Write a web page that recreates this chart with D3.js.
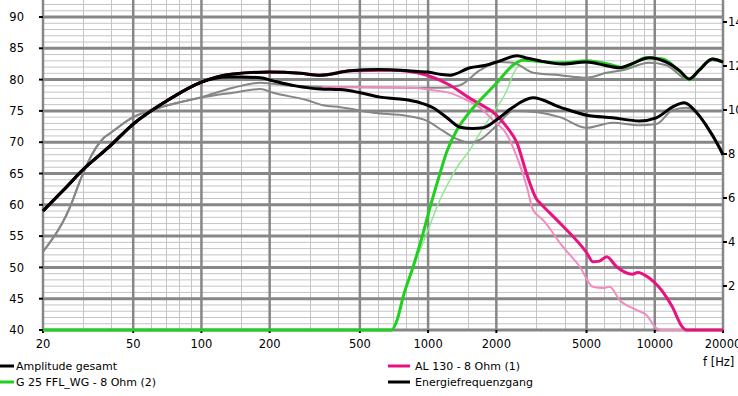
<!DOCTYPE html>
<html>
<head>
<meta charset="utf-8">
<script src="https://cdn.jsdelivr.net/npm/d3@7"></script>
<style>
body { margin: 0; background: #fff; }
svg { display: block; font-family: "DejaVu Sans", Verdana, sans-serif; }
</style>
</head>
<body>
<div id="chart"></div>
<script>
'use strict';

var width = 738;
var height = 396;

// Axis ticks
var xMajorTicks = [20, 50, 100, 200, 500, 1000, 2000, 5000, 10000, 20000];
var xMinorTicks = [30, 40, 60, 70, 80, 90, 150, 300, 400, 600, 700, 800, 900,
	1500, 3000, 4000, 6000, 7000, 8000, 9000, 15000];
var yMajorTicks = [40, 45, 50, 55, 60, 65, 70, 75, 80, 85, 90];
var yRightTicks = [2, 4, 6, 8, 10, 12, 14];

// Series, [frequency in Hz, level in dB]
var amplitudeGesamt = [
	[20, 59.0], [24.7, 62.4], [30, 65.6], [39, 69.2], [50, 72.9], [71, 76.7],
	[100, 79.6], [138, 80.9], [200, 81.2], [273, 81.0], [334, 80.7], [453, 81.4],
	[600, 81.6], [760, 81.5], [900, 81.3], [1000, 81.2], [1150, 80.8], [1250, 80.7],
	[1530, 81.9], [1800, 82.3], [2075, 83.0], [2470, 83.8], [2750, 83.4], [3100, 83.0],
	[3930, 82.5], [5000, 82.8], [6000, 82.3], [7000, 81.9], [8000, 82.6], [9450, 83.5],
	[11240, 82.8], [12900, 81.4], [14190, 80.1], [15700, 81.5], [17940, 83.3], [20000, 82.8]
];

var energieFrequenzgang = [
	[20, 59.0], [24.7, 62.4], [30, 65.6], [39, 69.2], [50, 72.9], [71, 76.7],
	[100, 79.6], [130, 80.4], [150, 80.4], [182, 80.3], [207, 79.8], [260, 79.0],
	[334, 78.5], [410, 78.4], [502, 77.9], [614, 77.2], [753, 76.9], [922, 76.3],
	[1052, 75.5], [1212, 73.9], [1383, 72.4], [1579, 72.2], [1748, 72.3], [2075, 74.0],
	[2367, 75.6], [2903, 77.1], [3814, 75.6], [5016, 74.3], [6516, 73.9], [8550, 73.4],
	[10160, 73.9], [11950, 75.6], [13490, 76.3], [15240, 74.8], [16870, 72.7],
	[19250, 69.2], [20000, 68.0]
];

var al130 = [
	[20, 59.0], [24.7, 62.4], [30, 65.6], [39, 69.2], [50, 72.9], [71, 76.7],
	[100, 79.6], [138, 80.9], [200, 81.2], [273, 81.0], [334, 80.7], [453, 81.4],
	[680, 81.5], [833, 81.3], [990, 80.7], [1250, 79.1], [1500, 77.2], [1750, 75.8],
	[1934, 74.8], [2228, 72.4], [2466, 69.9], [2730, 64.8], [3024, 60.8], [3116, 60.3],
	[3931, 56.6], [5016, 52.3], [5329, 50.9], [5700, 51.0], [6137, 51.7], [6787, 50.1],
	[7970, 48.9], [8400, 49.2], [9456, 48.3], [11240, 45.3], [11950, 43.7],
	[13220, 40.5], [13770, 40], [20000, 40]
];

var g25 = [
	[20, 40], [690, 40], [730, 41.6], [776, 45.3], [859, 50.1], [941, 54.9],
	[1020, 59.6], [1107, 64.0], [1212, 68.6], [1342, 72.0], [1485, 74.3], [1695, 76.7],
	[2013, 79.5], [2367, 82.3], [2620, 83.1], [3345, 82.8], [3931, 82.7], [5016, 83.0],
	[6516, 82.3], [7205, 81.9], [9180, 83.5], [10830, 83.3], [12900, 81.3], [14190, 80.0],
	[15700, 81.5], [17940, 83.3], [20000, 82.8]
];

// Reference curves of an earlier measurement (thin)
var refAmplitude = [
	[20, 52.5], [27.1, 60.8], [28.4, 62.8], [31.5, 66.7], [37.1, 70.7], [39.8, 71.5],
	[50, 74.0], [60, 75.1], [71, 75.9], [100, 77.2], [138, 78.7], [182, 79.5],
	[247, 79.0], [410, 78.8], [860, 78.7], [1164, 78.7], [1383, 79.1], [1695, 81.5],
	[2075, 82.8], [2367, 82.7], [2903, 81.1], [3814, 80.7], [5016, 80.3], [6137, 81.1],
	[7205, 81.5], [9456, 82.7], [11240, 82.3], [14190, 79.9], [15700, 81.5],
	[17940, 83.1], [20000, 82.8]
];

var refEnergie = [
	[20, 52.5], [27.1, 60.8], [28.4, 62.8], [31.5, 66.7], [37.1, 70.7], [39.8, 71.5],
	[50, 74.0], [60, 75.1], [71, 75.9], [99, 77.1], [138, 77.9], [182, 78.5],
	[207, 77.9], [293, 76.7], [344, 75.9], [410, 75.6], [573, 74.7], [808, 74.2],
	[990, 73.4], [1164, 71.8], [1342, 70.5], [1531, 69.9], [1695, 70.4], [2013, 72.7],
	[2367, 75.0], [3024, 74.8], [3814, 74.0], [5016, 72.3], [6516, 73.1], [8550, 72.7],
	[10160, 72.9], [11950, 75.1], [13770, 75.5], [15700, 74.3], [17260, 71.9],
	[19250, 69.1], [20000, 67.8]
];

var refAl130 = [
	[340, 78.8], [860, 78.7], [1052, 78.3], [1212, 78.0], [1485, 76.7], [1695, 75.5],
	[1934, 73.5], [2228, 71.2], [2367, 69.2], [2730, 62.8], [2903, 59.2], [3212, 57.6],
	[3931, 53.3], [4670, 50.1], [5329, 46.9], [5895, 46.7], [6323, 46.9], [6992, 44.8],
	[8300, 43.2], [9180, 42.4], [10160, 40.3], [10690, 40], [20000, 40]
];

var refG25 = [
	[20, 40], [690, 40], [730, 41.6], [776, 45.3], [859, 50.1], [940, 53.5],
	[1000, 56.0], [1129, 60.8], [1250, 64.0], [1342, 66.0], [1531, 68.8], [1695, 71.5],
	[1934, 74.7], [2228, 78.3], [2367, 80.8], [2541, 82.2], [2903, 81.1], [3814, 80.7],
	[5016, 80.3], [6137, 81.1], [7205, 81.5], [9456, 82.7], [11240, 82.3], [14190, 79.9],
	[15700, 81.5], [17940, 83.1], [20000, 82.8]
];

var legendItems = [
	{ label: "Amplitude gesamt", color: "#000000", col: 0, row: 0 },
	{ label: "G 25 FFL_WG - 8 Ohm (2)", color: "#1fd01f", col: 0, row: 1 },
	{ label: "AL 130 - 8 Ohm (1)", color: "#e8137f", col: 1, row: 0 },
	{ label: "Energiefrequenzgang", color: "#000000", col: 1, row: 1 }
];

var left = 43, right = 723, bottom = 330;

var x = d3.scaleLog().domain([20, 20000]).range([left, right]);
var y = d3.scaleLinear().domain([40, 90]).range([bottom, 17]);
var yRight = d3.scaleLinear().domain([0, 14]).range([bottom, 22]);

var svg = d3.select("#chart").append("svg")
	.attr("width", width)
	.attr("height", height);

svg.append("defs").append("clipPath").attr("id", "plotclip")
	.append("rect")
	.attr("x", left - 2)
	.attr("y", 0)
	.attr("width", right - left + 4)
	.attr("height", bottom + 3);

// grid
var grid = svg.append("g");

var minorY = d3.range(41, 93).filter(function(d) { return d % 5 != 0; });

grid.selectAll(".hminor").data(minorY).enter().append("line")
	.attr("x1", left).attr("x2", right)
	.attr("y1", function(d) { return y(d); })
	.attr("y2", function(d) { return y(d); })
	.style("stroke", "#c4c4c4")
	.style("stroke-width", 1);

grid.selectAll(".vminor").data(xMinorTicks).enter().append("line")
	.attr("x1", function(d) { return Math.round(x(d)) + 0.5; })
	.attr("x2", function(d) { return Math.round(x(d)) + 0.5; })
	.attr("y1", 0).attr("y2", bottom)
	.style("stroke", "#c4c4c4")
	.style("stroke-width", 1);

grid.selectAll(".hmajor").data(yMajorTicks).enter().append("line")
	.attr("x1", left).attr("x2", right)
	.attr("y1", function(d) { return y(d); })
	.attr("y2", function(d) { return y(d); })
	.style("stroke", "#878787")
	.style("stroke-width", 3);

grid.selectAll(".vmajor").data(xMajorTicks).enter().append("line")
	.attr("x1", function(d) { return x(d); })
	.attr("x2", function(d) { return x(d); })
	.attr("y1", 0).attr("y2", bottom)
	.style("stroke", "#878787")
	.style("stroke-width", 2.5);

// ticks and labels
var axes = svg.append("g").style("font-size", "11.5px").style("fill", "#000");

axes.selectAll(".ltick").data(yMajorTicks).enter().append("line")
	.attr("x1", left - 4).attr("x2", left)
	.attr("y1", function(d) { return y(d); })
	.attr("y2", function(d) { return y(d); })
	.style("stroke", "#000").style("stroke-width", 2);

axes.selectAll(".llabel").data(yMajorTicks).enter().append("text")
	.attr("x", 24)
	.attr("y", function(d) { return y(d); })
	.attr("dy", "0.36em")
	.attr("text-anchor", "end")
	.text(function(d) { return d; });

// right axis, labels run off the edge like in the original export
axes.selectAll(".rtick").data(yRightTicks).enter().append("line")
	.attr("x1", right).attr("x2", right + 4)
	.attr("y1", function(d) { return yRight(d); })
	.attr("y2", function(d) { return yRight(d); })
	.style("stroke", "#000").style("stroke-width", 2);

axes.selectAll(".rlabel").data(yRightTicks).enter().append("text")
	.attr("x", right + 5)
	.attr("y", function(d) { return yRight(d); })
	.attr("dy", "0.36em")
	.text(function(d) { return d; });

axes.selectAll(".btick").data(xMajorTicks).enter().append("line")
	.attr("x1", function(d) { return x(d); })
	.attr("x2", function(d) { return x(d); })
	.attr("y1", bottom).attr("y2", bottom + 3)
	.style("stroke", "#000").style("stroke-width", 2);

axes.selectAll(".blabel").data(xMajorTicks).enter().append("text")
	.attr("x", function(d) { return x(d); })
	.attr("y", 348)
	.attr("text-anchor", "middle")
	.text(function(d) { return d; });

axes.append("text")
	.attr("x", 703)
	.attr("y", 366)
	.text("f [Hz]");

// curves
var line = d3.line()
	.x(function(d) { return x(d[0]); })
	.y(function(d) { return y(d[1]); })
	.curve(d3.curveMonotoneX);

var curves = [
	{ data: refG25, color: "#8fe88f", w: 1.5 },
	{ data: refEnergie, color: "#868686", w: 2 },
	{ data: refAmplitude, color: "#868686", w: 2 },
	{ data: refAl130, color: "#f08cc0", w: 2 },
	{ data: al130, color: "#e8137f", w: 3 },
	{ data: g25, color: "#1fd01f", w: 3 },
	{ data: energieFrequenzgang, color: "#000000", w: 3 },
	{ data: amplitudeGesamt, color: "#000000", w: 3 }
];

var plot = svg.append("g").attr("clip-path", "url(#plotclip)");

plot.selectAll(".curve").data(curves).enter().append("path")
	.attr("class", "curve")
	.attr("d", function(d) { return line(d.data); })
	.style("fill", "none")
	.style("stroke", function(d) { return d.color; })
	.style("stroke-width", function(d) { return d.w; })
	.style("stroke-linejoin", "round");

// legend
var legend = svg.append("g").style("font-size", "11px");

var items = legend.selectAll(".item").data(legendItems).enter().append("g")
	.attr("transform", function(d) {
		return "translate(" + (d.col == 0 ? 0 : 388) + "," + (366 + d.row * 16) + ")";
	});

items.append("line")
	.attr("x1", 0)
	.attr("x2", function(d) { return d.col == 0 ? 14 : 22; })
	.style("stroke", function(d) { return d.color; })
	.style("stroke-width", 3);

items.append("text")
	.attr("x", function(d) { return d.col == 0 ? 16 : 27; })
	.attr("dy", "0.36em")
	.text(function(d) { return d.label; });
</script>
</body>
</html>
